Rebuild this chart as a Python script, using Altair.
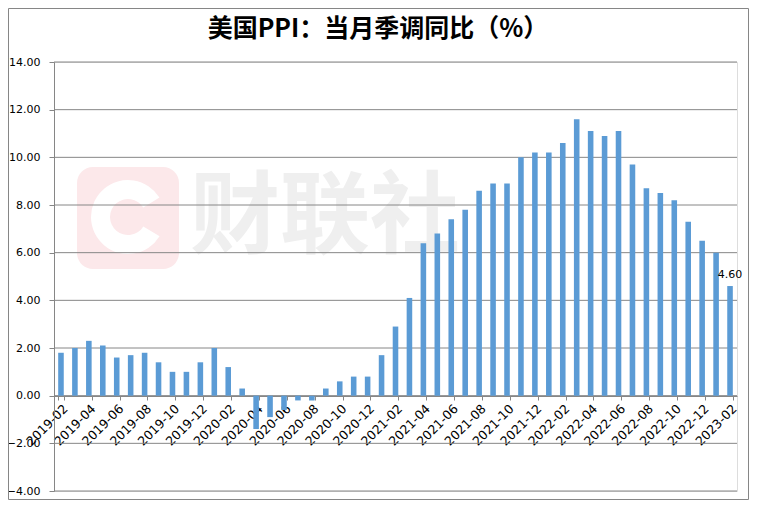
import altair as alt
import pandas as pd

months = [
    "2019-02", "2019-03", "2019-04", "2019-05", "2019-06", "2019-07", "2019-08",
    "2019-09", "2019-10", "2019-11", "2019-12",
    "2020-01", "2020-02", "2020-03", "2020-04", "2020-05", "2020-06", "2020-07",
    "2020-08", "2020-09", "2020-10", "2020-11", "2020-12",
    "2021-01", "2021-02", "2021-03", "2021-04", "2021-05", "2021-06", "2021-07",
    "2021-08", "2021-09", "2021-10", "2021-11", "2021-12",
    "2022-01", "2022-02", "2022-03", "2022-04", "2022-05", "2022-06", "2022-07",
    "2022-08", "2022-09", "2022-10", "2022-11", "2022-12",
    "2023-01", "2023-02",
]
ppi = [
    1.8, 2.0, 2.3, 2.1, 1.6, 1.7, 1.8, 1.4, 1.0, 1.0, 1.4,
    2.0, 1.2, 0.3, -1.4, -0.9, -0.6, -0.2, -0.2, 0.3, 0.6, 0.8, 0.8,
    1.7, 2.9, 4.1, 6.4, 6.8, 7.4, 7.8, 8.6, 8.9, 8.9, 10.0, 10.2,
    10.2, 10.6, 11.6, 11.1, 10.9, 11.1, 9.7, 8.7, 8.5, 8.2, 7.3, 6.5,
    6.0, 4.6,
]
y_ticks = [-4, -2, 0, 2, 4, 6, 8, 10, 12, 14]
x_label_months = months[::2]
title_text = "美国PPI：当月季调同比（%）"
watermark_text = "财联社"

df = pd.DataFrame({"month": months, "value": ppi})
last_df = df.tail(1)
grid_df = pd.DataFrame({"tick": y_ticks})
one = alt.Data(values=[{"k": 1}])

W, H = 683, 429
GRAY = "#868686"

xscale = alt.Scale(domain=months, paddingInner=0.6, paddingOuter=0.3)
yscale = alt.Scale(domain=[-4, 14], nice=False, zero=False)

y_axis = alt.Axis(
    values=y_ticks, format=".2f", grid=False,
    labelFont="DejaVu Sans", labelFontSize=11, labelColor="#000000",
    labelPadding=9, tickSize=5, tickColor=GRAY, domainColor=GRAY,
)

border = alt.Chart(one).mark_rect(
    fillOpacity=0, stroke=GRAY, strokeWidth=1
).encode(
    x=alt.value(-45.5), x2=alt.value(W + 11.5),
    y=alt.value(-53.5), y2=alt.value(H + 8.5),
)

wm_rect = alt.Chart(one).mark_rect(
    color="#fce8ea", cornerRadius=16
).encode(
    x=alt.value(23), x2=alt.value(125), y=alt.value(105), y2=alt.value(207)
)

wm_arc = alt.Chart(one).mark_arc(
    theta=2.12, theta2=7.30, radius=37, radius2=18, color="white"
).encode(x=alt.value(74), y=alt.value(155))

wm_text = alt.Chart(one).mark_text(
    text=watermark_text, font="Noto Sans CJK SC", fontSize=90,
    fontWeight="bold", color="#efefef", align="center", baseline="middle"
).encode(x=alt.value(271), y=alt.value(157))

grid = alt.Chart(grid_df).mark_rule(color=GRAY, strokeWidth=1).encode(
    y=alt.Y("tick:Q", scale=yscale, axis=y_axis, title=None)
)

bars = alt.Chart(df).mark_bar(color="#5B9BD5").encode(
    x=alt.X(
        "month:N", scale=xscale, sort=months, title=None,
        axis=alt.Axis(
            values=x_label_months, labelAngle=-45, labelOverlap=False,
            labelFont="DejaVu Sans", labelFontSize=12.5, labelColor="#000000",
            labelPadding=2, tickSize=4, tickColor=GRAY, domainColor=GRAY,
            tickBand="extent", offset=-95, grid=False,
        ),
    ),
    y=alt.Y("value:Q", scale=yscale, title=None, axis=y_axis),
)

label = alt.Chart(last_df).mark_text(
    font="DejaVu Sans", fontSize=11, color="#000000",
    align="center", baseline="bottom", dy=-6
).encode(
    x=alt.X("month:N", scale=xscale, sort=months),
    y=alt.Y("value:Q", scale=yscale),
    text=alt.Text("value:Q", format=".2f"),
)

title = alt.Chart(one).mark_text(
    text=title_text, font="Noto Sans CJK SC", fontSize=25,
    fontWeight="bold", color="#000000", align="center", baseline="middle"
).encode(x=alt.value(324), y=alt.value(-33))

chart = alt.layer(
    border, wm_rect, wm_arc, wm_text, grid, bars, label, title
).properties(
    width=W, height=H,
    autosize=alt.AutoSizeParams(type="none"),
    padding={"left": 46, "top": 54, "right": 12, "bottom": 9},
).configure_view(stroke=None).configure(background="white")

chart.save("out.html", embed_options={"renderer": "svg", "actions": False})
